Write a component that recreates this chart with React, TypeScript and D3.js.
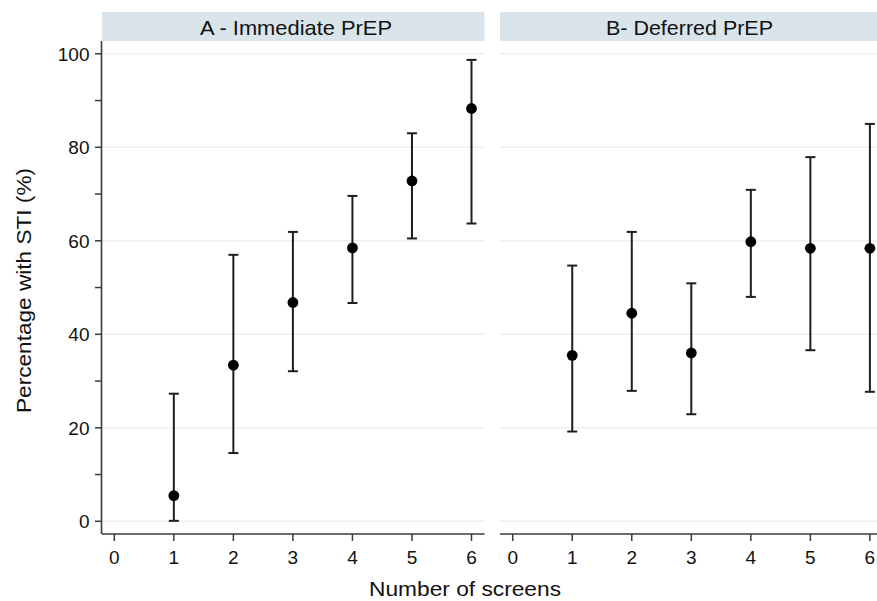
import React from "react";
import * as d3 from "d3";

const xTicks = [0, 1, 2, 3, 4, 5, 6];
const yMajor = [0, 20, 40, 60, 80, 100];
const yMinor = [10, 30, 50, 70, 90];

const screens = [1, 2, 3, 4, 5, 6];
const immediateEst = [5.5, 33.4, 46.8, 58.5, 72.8, 88.3];
const immediateLo = [0.1, 14.6, 32.1, 46.7, 60.5, 63.7];
const immediateHi = [27.3, 57.0, 61.9, 69.6, 83.0, 98.7];

const deferredEst = [35.5, 44.5, 36.0, 59.8, 58.4, 58.4];
const deferredLo = [19.2, 27.9, 22.9, 48.0, 36.6, 27.7];
const deferredHi = [54.7, 61.9, 50.9, 70.9, 77.9, 85.0];

const panelTitles = ["A - Immediate PrEP", "B- Deferred PrEP"];
const panelTitleLengths = [192, 167];
const yTitle = "Percentage with STI (%)";
const xTitle = "Number of screens";

const FONT = "'Liberation Sans', Arial, Helvetica, sans-serif";

export default function App() {
  const W = 877;
  const H = 601;
  const top = 41;
  const bottom = 534;
  const y = d3.scaleLinear().domain([0, 100]).range([521.3, 53.8]);
  const panels = [
    { x0: 102, x1: 484.5, t: 114.3, est: immediateEst, lo: immediateLo, hi: immediateHi },
    { x0: 500, x1: 882.5, t: 512.7, est: deferredEst, lo: deferredLo, hi: deferredHi },
  ];
  const stripColor = "#d9e5eb";
  const gridColor = "#e9f1f3";
  const axisColor = "#3a3a3a";
  const barColor = "#1e1e1e";

  return (
    <svg width={W} height={H} style={{ position: "absolute", left: 0, top: 0, background: "#fff" }}>
      <rect x={0} y={0} width={W} height={H} fill="#fff" />
      {panels.map((p, pi) => {
        const x = d3.scaleLinear().domain([0, 6]).range([p.t, p.t + 357.2]);
        const rows = screens.map((s, i) => ({ s, e: p.est[i], lo: p.lo[i], hi: p.hi[i] }));
        return (
          <g key={pi}>
            <rect x={p.x0} y={12} width={p.x1 - p.x0} height={29} fill={stripColor} />
            <text
              x={pi === 0 ? 296 : 689.5}
              y={35}
              textAnchor="middle"
              fontFamily={FONT}
              fontSize={21}
              fill="#111"
              textLength={panelTitleLengths[pi]}
              lengthAdjust="spacingAndGlyphs"
            >
              {panelTitles[pi]}
            </text>
            {yMajor.map((v) => (
              <line key={v} x1={p.x0} x2={p.x1} y1={y(v)} y2={y(v)} stroke={gridColor} strokeWidth={1.5} />
            ))}
            <line x1={p.x0} x2={p.x1} y1={bottom} y2={bottom} stroke={axisColor} strokeWidth={1.6} />
            {xTicks.map((t) => (
              <g key={t}>
                <line x1={x(t)} x2={x(t)} y1={bottom} y2={bottom + 7} stroke={axisColor} strokeWidth={1.5} />
                <text x={x(t)} y={564} textAnchor="middle" fontFamily={FONT} fontSize={19} fill="#111">
                  {t}
                </text>
              </g>
            ))}
            {rows.map((r) => (
              <g key={r.s}>
                <line x1={x(r.s)} x2={x(r.s)} y1={y(r.lo)} y2={y(r.hi)} stroke={barColor} strokeWidth={2} />
                <line x1={x(r.s) - 5} x2={x(r.s) + 5} y1={y(r.lo)} y2={y(r.lo)} stroke={barColor} strokeWidth={2} />
                <line x1={x(r.s) - 5} x2={x(r.s) + 5} y1={y(r.hi)} y2={y(r.hi)} stroke={barColor} strokeWidth={2} />
                <circle cx={x(r.s)} cy={y(r.e)} r={5.4} fill="#000" />
              </g>
            ))}
          </g>
        );
      })}
      <line x1={101.5} x2={101.5} y1={top} y2={bottom} stroke={axisColor} strokeWidth={1.6} />
      {yMajor.map((v) => (
        <g key={v}>
          <line x1={95} x2={101.5} y1={y(v)} y2={y(v)} stroke={axisColor} strokeWidth={1.5} />
          <text x={89.5} y={y(v) + 7} textAnchor="end" fontFamily={FONT} fontSize={19} fill="#111">
            {v}
          </text>
        </g>
      ))}
      {yMinor.map((v) => (
        <line key={v} x1={95} x2={101.5} y1={y(v)} y2={y(v)} stroke={axisColor} strokeWidth={1.5} />
      ))}
      <text
        transform="translate(31,290.5) rotate(-90)"
        textAnchor="middle"
        fontFamily={FONT}
        fontSize={21}
        fill="#111"
        textLength={245}
        lengthAdjust="spacingAndGlyphs"
      >
        {yTitle}
      </text>
      <text
        x={465}
        y={596}
        textAnchor="middle"
        fontFamily={FONT}
        fontSize={21}
        fill="#111"
        textLength={192}
        lengthAdjust="spacingAndGlyphs"
      >
        {xTitle}
      </text>
    </svg>
  );
}
